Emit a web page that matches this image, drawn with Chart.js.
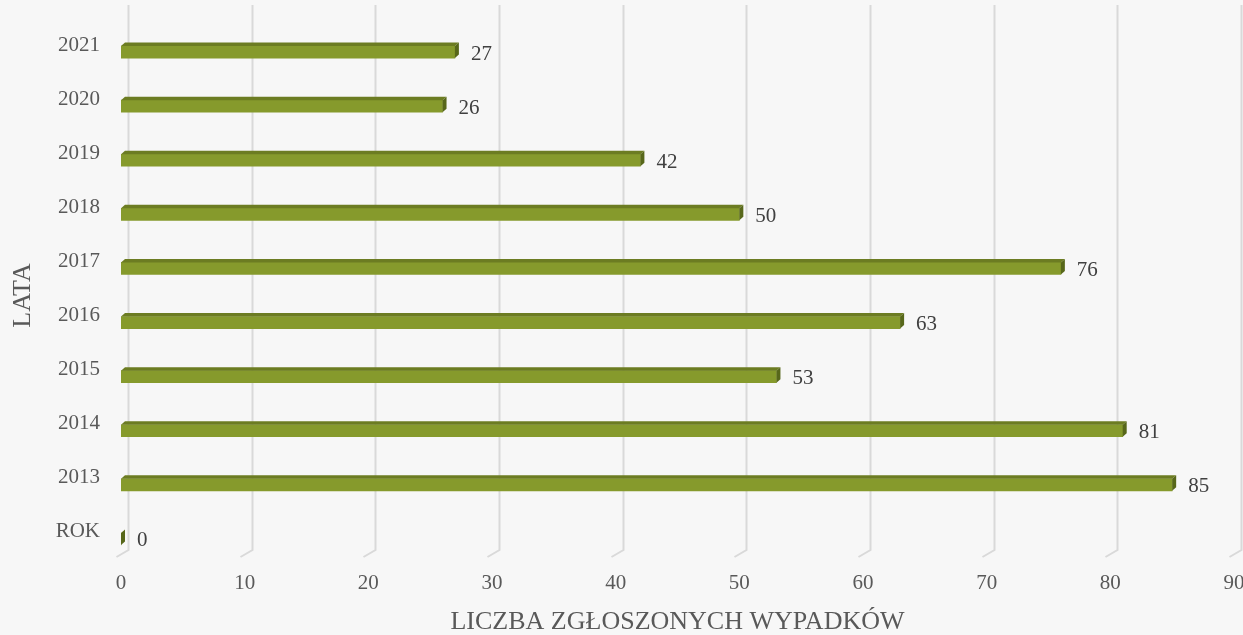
<!DOCTYPE html>
<html>
<head>
<meta charset="utf-8">
<script src="https://cdn.jsdelivr.net/npm/chart.js@4/dist/chart.umd.min.js"></script>
<style>
  html, body { margin: 0; padding: 0; background: #f7f7f7; }
  #wrap { width: 1243px; height: 635px; position: relative; }
</style>
</head>
<body>
<div id="wrap"><canvas id="c" width="1243" height="635"></canvas></div>
<script>
const categories = ['2021', '2020', '2019', '2018', '2017', '2016', '2015', '2014', '2013', 'ROK'];
const values = [27, 26, 42, 50, 76, 63, 53, 81, 85, 0];
const xTicks = [0, 10, 20, 30, 40, 50, 60, 70, 80, 90];
const xTitle = 'LICZBA ZGŁOSZONYCH WYPADKÓW';
const yTitle = 'LATA';

const FONT = '"Liberation Serif", "Times New Roman", serif';
const FRONT = '#869a2c';
const TOP = '#6c7c22';
const SIDE = '#57671a';

const gridPlugin = {
  id: 'grid3d',
  beforeDatasetsDraw(chart) {
    const ctx = chart.ctx;
    const xs = chart.scales.x;
    ctx.save();
    ctx.strokeStyle = '#d9d9d9';
    ctx.lineWidth = 2;
    xTicks.forEach(v => {
      const px = Math.round(xs.getPixelForValue(v)) + 7.5;
      ctx.beginPath();
      ctx.moveTo(px, 5);
      ctx.lineTo(px, 550);
      ctx.lineTo(px - 12, 557);
      ctx.stroke();
    });
    ctx.restore();
  }
};

const bar3dPlugin = {
  id: 'bar3d',
  afterDatasetsDraw(chart) {
    const ctx = chart.ctx;
    const meta = chart.getDatasetMeta(0);
    const dx = 4, dy = 3.5;
    ctx.save();
    meta.data.forEach((el, i) => {
      const p = el.getProps(['x', 'y', 'base', 'height'], true);
      const top = p.y - p.height / 2;
      const bot = p.y + p.height / 2;
      const x0 = p.base, x1 = p.x;
      ctx.fillStyle = TOP;
      ctx.beginPath();
      ctx.moveTo(x0, top);
      ctx.lineTo(x0 + dx, top - dy);
      ctx.lineTo(x1 + dx, top - dy);
      ctx.lineTo(x1, top);
      ctx.closePath();
      ctx.fill();
      ctx.fillStyle = SIDE;
      ctx.beginPath();
      ctx.moveTo(x1, top);
      ctx.lineTo(x1 + dx, top - dy);
      ctx.lineTo(x1 + dx, bot - dy);
      ctx.lineTo(x1, bot);
      ctx.closePath();
      ctx.fill();
      ctx.fillStyle = '#404040';
      ctx.font = '21px ' + FONT;
      ctx.textAlign = 'left';
      ctx.textBaseline = 'middle';
      ctx.fillText(String(values[i]), x1 + 16, p.y + 2);
    });
    ctx.restore();
  }
};

new Chart(document.getElementById('c'), {
  type: 'bar',
  data: {
    labels: categories,
    datasets: [{
      data: values,
      backgroundColor: FRONT,
      borderWidth: 0,
      barThickness: 12
    }]
  },
  options: {
    indexAxis: 'y',
    responsive: false,
    animation: false,
    layout: { padding: { top: 25, right: 9, left: 0, bottom: 0 } },
    plugins: { legend: { display: false }, tooltip: { enabled: false } },
    scales: {
      x: {
        min: 0, max: 90,
        afterBuildTicks(scale) { scale.ticks = xTicks.map(v => ({ value: v })); },
        afterFit(scale) { scale.height = 69; scale.paddingLeft = 0; scale.paddingRight = 0; },
        grid: { display: false, drawTicks: false },
        border: { display: false },
        ticks: { color: '#595959', font: { family: FONT, size: 21 }, padding: 5 },
        title: { display: true, text: xTitle, color: '#595959', font: { family: FONT, size: 26 }, padding: { top: 2, bottom: -3 } }
      },
      y: {
        afterFit(scale) { scale.width = 121; scale.paddingTop = 0; scale.paddingBottom = 0; },
        grid: { display: false, drawTicks: false },
        border: { display: false },
        ticks: { color: '#595959', font: { family: FONT, size: 21 }, padding: 21, labelOffset: -7 },
        title: { display: true, text: yTitle, color: '#595959', font: { family: FONT, size: 26 }, padding: { top: 8, bottom: 0 } }
      }
    }
  },
  plugins: [gridPlugin, bar3dPlugin]
});
</script>
</body>
</html>
